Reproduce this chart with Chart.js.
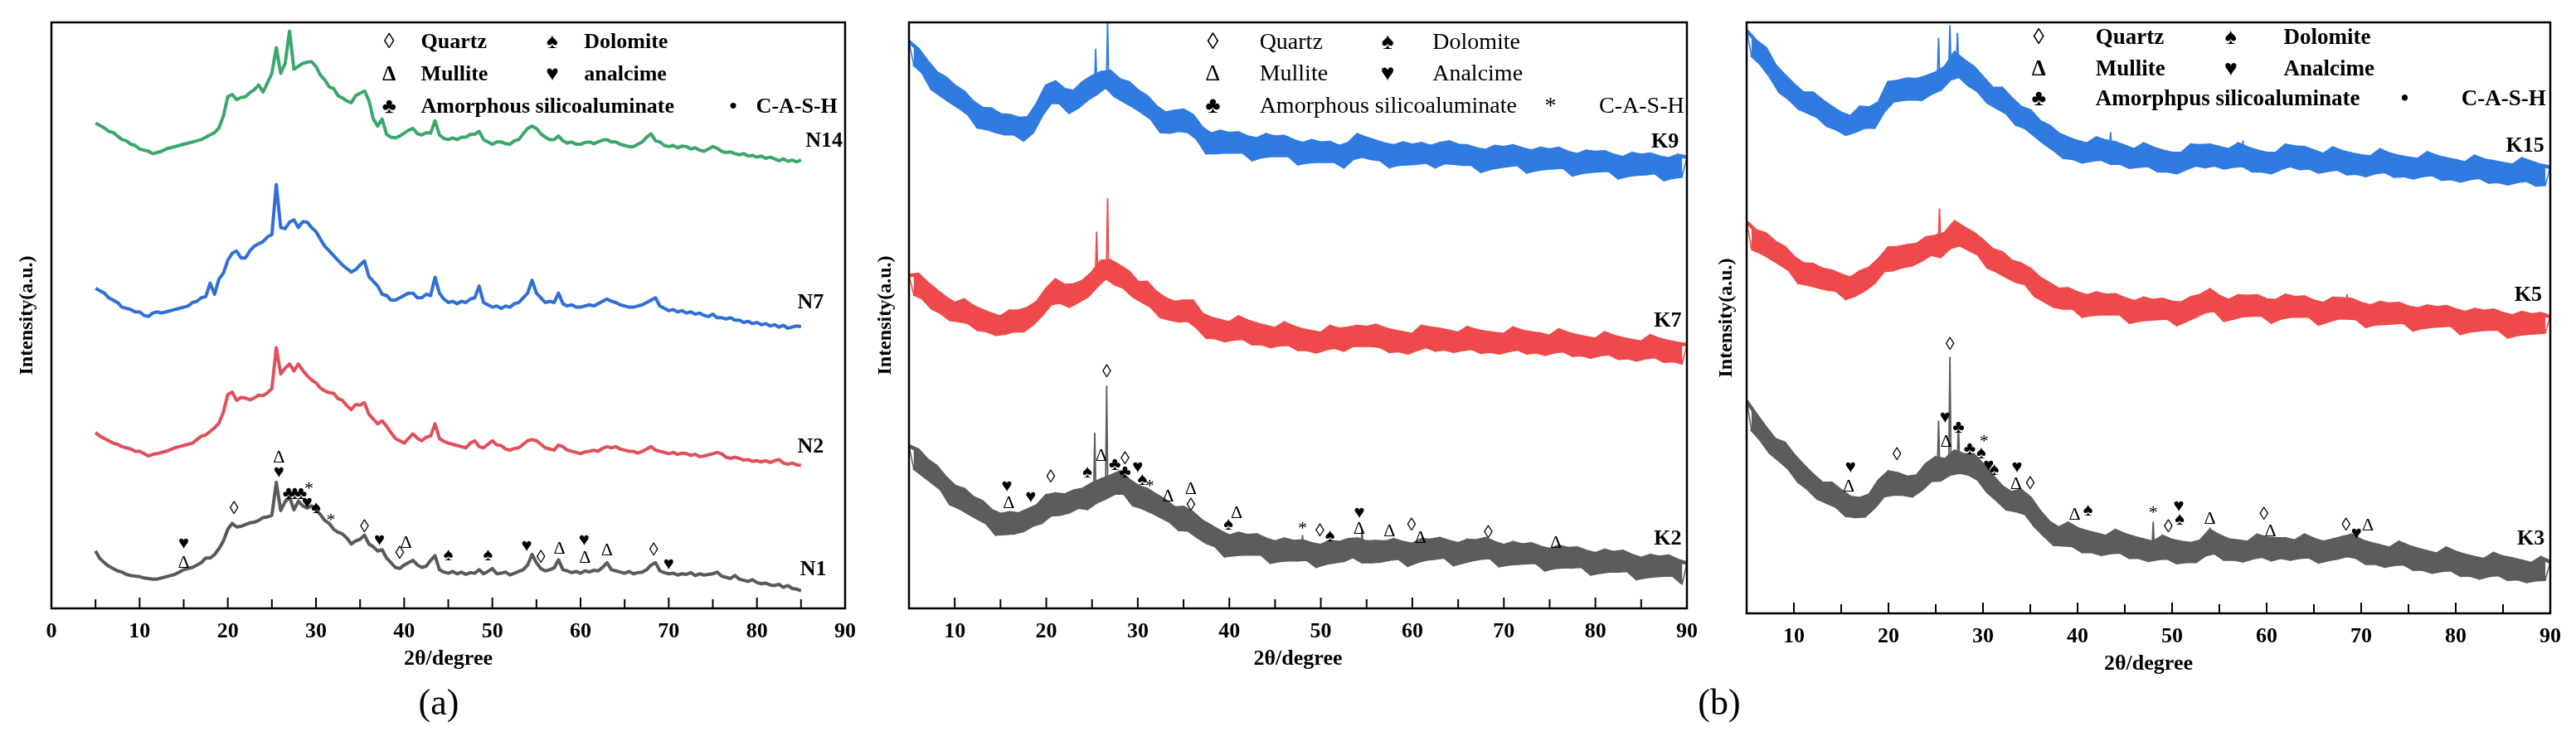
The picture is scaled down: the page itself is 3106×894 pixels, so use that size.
<!DOCTYPE html>
<html>
<head>
<meta charset="utf-8">
<script src="https://cdn.jsdelivr.net/npm/chart.js@4.4.1/dist/chart.umd.min.js"></script>
<style>
  html, body { margin: 0; padding: 0; background: #fff; }
  #wrap { position: relative; width: 3106px; height: 894px; overflow: hidden; }
  #wrap canvas { position: absolute; top: 0; }
  .cap { position: absolute; top: 847px; font: 44px "Liberation Serif", "Times New Roman", serif;
         transform: translate(-50%, -50%); color: #000; }
</style>
</head>
<body>
<div id="wrap">
  <canvas id="pa" style="left:0px;width:1045px;height:894px" width="1045" height="894"></canvas>
  <canvas id="pb" style="left:1045px;width:1015px;height:894px" width="1015" height="894"></canvas>
  <canvas id="pc" style="left:2060px;width:1046px;height:894px" width="1046" height="894"></canvas>
  <div class="cap" style="left:529px">(a)</div>
  <div class="cap" style="left:2073px">(b)</div>
</div>
<script>
// scan grid: 2θ sampled every 0.5°
const angleA = Array.from({ length: 161 }, (_, i) => 5 + i * 0.5);   // 5..85
const angleK = Array.from({ length: 171 }, (_, i) => 5 + i * 0.5);   // 5..90

// panel (a), intensity in arbitrary units (0-100 of plot height)
const n14 = [
  82.8,82.4,82.0,81.4,81.2,80.6,80.0,79.8,79.2,79.0,
  78.4,78.2,78.0,77.6,77.8,78.0,78.4,78.6,78.8,79.0,
  79.2,79.4,79.6,79.8,80.0,80.4,80.8,81.2,82.0,84.0,
  87.3,87.7,86.8,87.2,87.3,88.0,88.5,89.3,88.1,89.7,
  91.3,95.7,91.3,93.0,98.5,92.0,92.5,93.0,93.2,93.3,
  92.5,91.0,90.2,89.0,88.7,87.5,87.1,86.6,86.3,87.5,
  87.9,88.3,86.7,83.5,82.3,83.5,80.9,80.4,80.3,80.6,
  81.1,81.6,81.9,81.0,80.8,81.2,81.1,83.2,80.8,80.2,
  80.0,80.3,80.0,80.4,80.4,80.9,80.9,81.4,80.0,79.6,
  79.2,79.6,79.6,79.3,79.2,79.8,80.0,81.0,81.9,82.3,
  81.9,81.0,80.4,80.0,80.0,80.6,79.8,79.4,79.6,79.2,
  79.2,79.5,79.6,79.3,79.6,79.9,80.0,79.6,79.6,79.2,
  79.0,78.8,78.8,79.2,79.6,80.4,81.0,79.8,79.6,79.0,
  78.8,79.0,78.6,78.9,78.8,78.4,78.6,78.2,78.0,78.4,
  78.8,78.5,78.0,77.8,77.9,77.6,77.4,77.6,77.2,77.3,
  77.0,77.2,76.8,77.0,76.7,76.4,76.7,76.3,76.5,76.2,
  76.5
];
const n7 = [
  54.6,54.2,53.8,53.0,52.6,52.2,51.4,51.2,51.0,50.6,
  50.6,50.0,49.8,50.4,50.6,50.4,50.6,50.8,51.0,51.2,
  51.4,51.6,52.2,52.4,53.0,53.2,55.5,53.6,56.2,57.2,
  59.4,60.6,61.0,59.8,59.8,61.0,61.8,62.2,62.6,63.4,
  63.8,72.3,65.0,64.8,65.9,66.3,65.0,66.0,65.9,65.0,
  64.3,63.0,61.8,61.0,60.2,59.4,58.6,58.0,57.4,57.8,
  58.6,59.3,56.6,55.8,55.0,53.6,53.4,52.6,52.6,53.0,
  53.4,53.8,53.8,53.0,53.0,53.6,53.4,56.5,53.8,52.8,
  52.2,52.4,52.0,52.4,52.2,52.8,53.0,55.0,52.2,51.8,
  51.4,51.6,51.2,51.6,51.4,52.0,52.2,53.0,53.8,56.0,
  53.8,53.0,52.2,52.4,52.2,53.8,52.0,51.6,51.8,51.4,
  51.4,51.6,51.8,51.6,52.0,52.4,52.8,52.4,52.2,51.8,
  51.6,51.4,51.4,51.6,51.8,52.2,52.6,53.0,51.6,51.2,
  50.8,51.0,50.6,50.8,50.4,50.6,50.2,50.4,50.0,49.8,
  50.2,49.6,49.6,49.4,49.6,49.2,49.2,48.8,49.0,48.6,
  48.8,48.4,48.6,48.2,48.4,48.0,48.3,47.8,48.0,48.2,
  48.1
];
const n2 = [
  30.0,29.4,29.0,28.6,28.2,28.0,27.6,27.4,27.2,26.8,
  26.8,26.4,26.0,26.3,26.4,26.6,26.8,27.1,27.4,27.6,
  27.8,28.0,28.2,28.8,29.4,29.6,30.2,30.8,31.6,33.5,
  36.5,36.9,35.5,36.0,35.9,35.6,35.9,36.4,36.3,36.8,
  37.5,44.5,40.0,41.0,41.7,40.5,41.7,40.6,39.7,39.0,
  38.5,37.6,37.1,36.8,36.7,35.8,35.5,34.6,33.9,34.8,
  34.7,35.1,33.1,32.3,31.5,32.0,31.1,30.0,29.0,28.6,
  28.2,29.0,29.8,29.0,28.6,29.2,29.4,31.5,29.0,28.5,
  28.2,28.0,27.8,27.6,27.4,28.2,28.6,27.6,27.4,28.0,
  28.6,27.9,27.8,27.2,27.0,27.3,27.4,28.0,28.6,28.8,
  28.6,28.0,27.4,27.2,27.0,27.9,27.6,27.0,26.8,26.6,
  26.4,26.7,26.8,27.0,26.8,27.3,27.6,27.4,27.6,27.2,
  27.0,26.8,26.8,26.5,26.8,27.2,27.6,27.0,26.8,26.6,
  26.4,26.6,26.3,26.5,26.4,26.1,26.3,25.9,26.0,26.2,
  26.4,26.6,26.4,25.8,25.6,25.8,25.6,25.3,25.4,25.1,
  25.2,25.0,25.2,24.9,25.2,25.4,24.8,24.6,24.8,24.5,
  24.4
];
const n1 = [
  9.8,8.5,7.8,7.2,6.8,6.4,6.2,5.8,5.6,5.5,
  5.4,5.2,5.1,5.0,5.0,5.2,5.4,5.6,5.8,6.2,
  6.6,6.8,7.0,7.4,7.8,8.6,8.6,9.2,10.2,11.5,
  13.5,14.5,13.9,14.0,14.3,14.6,14.7,15.0,15.5,15.6,
  15.9,21.5,16.7,18.2,19.0,16.8,18.3,17.5,17.1,17.5,
  16.8,16.0,15.0,14.5,13.5,13.0,12.7,12.0,11.0,11.5,
  11.8,12.5,11.0,10.5,9.8,10.0,8.6,7.8,7.0,6.8,
  7.4,7.8,8.2,7.4,7.0,7.2,8.2,9.0,6.6,6.2,
  6.0,6.3,5.9,6.2,5.8,6.1,6.0,6.6,5.9,6.3,
  6.8,5.9,6.0,6.2,5.7,6.0,6.3,6.6,7.4,9.2,
  7.8,6.8,6.4,6.6,6.9,8.3,6.6,6.4,6.1,6.3,
  6.0,6.4,6.2,6.5,6.4,7.0,7.8,6.6,6.4,6.2,
  6.0,6.3,5.9,6.1,6.2,6.6,7.4,7.8,6.4,6.1,
  5.9,6.0,5.7,5.9,5.8,6.1,5.6,5.9,5.7,5.8,
  5.9,6.2,5.5,5.3,5.1,5.6,5.0,4.8,4.6,4.9,
  4.4,4.2,4.3,4.0,3.9,4.1,3.6,3.9,3.4,3.3,
  3.0
];

// panels (b) and (c): noisy scans, alternating upper / lower edge of the noise band
const k9 = [
  96.7,92.9,95.4,91.5,93.3,88.7,91.4,87.6,90.5,86.5,
  89.1,85.5,88.1,84.4,86.4,82.2,85.3,81.9,85.2,81.4,
  84.2,81.0,84.1,81.0,83.6,80.0,83.7,81.3,86.0,84.2,
  89.1,86.4,89.8,86.3,88.5,84.7,88.2,85.6,89.7,86.9,
  90.7,87.9,91.4,89.1,91.6,87.5,90.2,86.6,89.7,85.7,
  88.3,84.7,87.3,83.6,85.6,81.4,84.5,81.3,84.8,81.6,
  85.0,81.4,84.1,80.2,82.0,77.8,80.9,77.8,81.4,77.9,
  81.0,77.9,81.1,77.9,80.4,76.6,80.1,77.1,80.8,77.3,
  80.4,77.3,80.5,77.3,79.8,75.9,79.3,76.2,79.8,76.3,
  79.4,76.3,79.5,76.3,78.8,75.4,79.3,76.8,80.8,77.2,
  80.2,76.8,79.7,76.6,79.2,75.4,78.9,75.8,79.4,75.9,
  79.0,76.0,79.3,76.2,78.8,75.4,79.3,76.1,79.6,76.0,
  79.0,75.8,78.9,75.8,78.4,74.6,78.1,75.1,78.8,75.4,
  78.6,75.6,78.9,75.8,78.4,74.5,78.0,74.9,78.5,75.1,
  78.2,75.2,78.5,75.3,77.8,74.0,77.4,74.4,78.0,74.6,
  77.8,74.7,77.9,74.8,77.3,73.5,76.9,73.9,77.6,74.1,
  77.3,74.2,77.5,74.4,77.0,73.2,76.7,73.6,77.3,73.8,
  77.0
];
const k7 = [
  56.8,53.7,57.0,53.0,55.5,51.3,54.2,50.5,53.0,49.3,
  52.0,49.1,52.6,48.8,51.5,47.6,50.8,47.4,50.2,46.8,
  49.7,47.0,50.7,47.4,50.7,47.4,51.2,48.5,52.2,50.1,
  54.4,52.0,56.0,52.3,55.1,51.6,55.2,52.4,55.8,53.3,
  57.2,55.0,59.2,56.5,59.3,55.4,58.4,54.8,57.4,53.3,
  55.6,52.4,55.6,51.5,53.9,49.8,52.8,49.4,52.2,49.1,
  52.4,49.2,52.4,48.0,50.2,46.3,49.5,46.2,49.1,45.7,
  48.7,46.0,49.7,46.1,49.0,45.2,48.5,45.2,48.1,44.7,
  47.7,45.0,48.7,45.1,48.0,44.2,47.5,44.2,47.2,43.8,
  46.9,44.3,48.1,44.6,47.6,44.1,47.8,44.9,48.1,44.9,
  47.9,44.9,48.3,44.7,47.7,43.9,47.3,44.0,47.0,43.6,
  46.7,44.2,48.1,44.7,47.8,44.1,47.6,44.3,47.3,43.9,
  46.9,44.2,47.9,44.4,47.4,43.7,47.1,43.9,46.9,43.6,
  46.7,44.0,47.8,44.3,47.3,43.6,47.0,43.8,46.8,43.4,
  46.4,43.8,47.5,44.0,46.9,43.2,46.5,43.3,46.2,42.9,
  45.9,43.3,47.0,43.5,46.4,42.7,46.0,42.8,45.7,42.4,
  45.4,42.8,46.5,43.0,45.9,42.2,45.5,42.3,45.2,41.9,
  45.0
];
const k2 = [
  27.7,24.0,27.0,22.8,25.3,21.6,24.2,20.4,22.3,17.9,
  20.8,17.2,20.3,16.3,18.9,15.4,18.2,14.6,16.7,12.7,
  16.0,12.8,16.3,12.9,16.1,13.3,16.8,14.2,17.5,14.7,
  19.2,16.0,19.5,16.1,19.3,16.5,20.0,17.3,20.3,17.1,
  21.2,18.2,21.9,18.9,22.5,19.7,23.2,19.7,21.9,17.7,
  20.8,17.2,20.3,16.5,19.3,15.7,18.4,14.9,17.1,13.5,
  17.2,13.4,16.3,12.3,14.9,11.3,14.0,10.7,13.1,9.0,
  12.3,9.2,12.8,9.3,12.4,9.3,12.5,9.3,11.8,7.9,
  11.3,8.2,11.8,8.3,11.4,8.3,11.5,8.4,11.0,7.2,
  10.7,7.7,11.4,8.0,11.2,8.2,11.7,8.9,11.8,8.0,
  11.3,8.0,11.4,8.1,11.3,8.4,11.7,8.6,11.2,7.4,
  10.9,8.0,11.7,8.4,11.6,8.6,11.9,8.8,11.4,7.5,
  11.0,7.9,11.6,8.3,11.5,8.6,11.9,8.7,11.2,7.3,
  10.7,7.6,11.2,7.7,10.8,7.8,11.0,7.9,10.4,6.6,
  10.0,7.0,10.6,7.1,10.2,7.1,10.3,7.2,9.7,5.9,
  9.3,6.2,9.9,6.4,9.5,6.4,9.7,6.5,9.0,5.1,
  8.5,5.4,9.0,5.6,8.7,5.7,8.9,5.7,8.2,4.3,
  7.7
];
const k15 = [
  98.6,94.5,96.8,93.0,95.6,90.9,92.7,88.3,91.0,87.1,
  89.4,85.5,88.0,84.8,88.0,84.1,86.7,82.6,85.6,82.0,
  84.6,81.1,84.0,81.6,85.6,82.3,85.5,82.3,86.4,85.0,
  89.8,86.7,90.0,87.0,90.4,87.1,90.3,87.0,90.8,88.0,
  91.4,88.7,92.4,90.4,94.8,90.9,93.5,89.4,92.4,88.4,
  90.6,86.5,88.8,85.6,88.8,84.7,87.1,82.8,85.6,82.2,
  85.0,80.9,83.2,79.6,82.4,78.5,81.1,77.2,80.4,77.0,
  79.8,76.4,79.4,76.7,80.4,76.9,79.9,76.2,79.6,76.2,
  79.0,75.5,78.4,75.7,79.4,75.8,78.7,74.9,78.2,74.9,
  77.8,74.6,77.8,75.3,79.2,75.9,79.1,75.6,79.2,75.9,
  78.8,75.4,78.4,75.7,79.4,75.8,78.7,74.9,78.2,74.9,
  77.8,74.6,77.8,75.3,79.2,75.8,78.9,75.3,78.8,75.4,
  78.2,74.7,77.6,75.0,78.7,75.2,78.1,74.4,77.7,74.5,
  77.4,74.1,77.2,74.6,78.4,74.8,77.7,74.0,77.3,74.1,
  77.0,73.7,76.8,74.1,77.9,74.3,77.3,73.5,76.9,73.6,
  76.6,73.2,76.2,73.6,77.3,73.8,76.7,73.0,76.4,73.1,
  76.1,72.7,75.8,73.1,76.9,73.3,76.3,72.5,75.8,72.6,
  75.5
];
const k5 = [
  66.2,61.8,64.7,61.1,64.2,60.2,62.8,59.2,61.9,58.2,
  60.2,56.0,59.1,55.7,59.0,55.3,58.2,54.9,57.9,54.7,
  57.2,53.3,56.7,53.9,57.8,54.8,58.4,56.0,59.9,58.0,
  61.8,58.2,61.9,58.7,62.2,59.0,62.4,59.8,63.5,60.8,
  63.8,60.4,64.3,61.9,66.2,62.4,65.2,61.6,64.3,60.8,
  63.0,58.6,61.5,57.9,61.0,57.0,59.6,56.2,59.1,55.8,
  58.2,53.8,56.7,52.9,55.8,52.0,54.8,51.7,54.9,51.7,
  54.2,50.3,53.7,50.6,54.2,50.7,53.8,50.7,53.9,50.7,
  53.2,49.3,52.7,49.6,53.3,49.8,52.9,49.9,53.1,50.0,
  52.6,48.9,52.5,49.6,53.4,50.3,53.8,51.1,54.7,51.3,
  53.6,49.6,52.9,50.0,53.7,50.4,53.6,50.5,53.7,50.5,
  53.0,49.3,52.9,50.0,53.8,50.3,53.4,50.3,53.5,50.3,
  52.8,49.0,52.4,49.5,53.3,50.0,53.2,50.0,53.1,49.9,
  52.4,48.6,52.0,49.0,52.6,49.1,52.3,49.2,52.4,49.3,
  51.8,48.0,51.5,48.4,52.0,48.6,51.7,48.7,51.9,48.8,
  51.3,47.4,50.9,47.8,51.4,48.0,51.1,48.1,51.3,48.1,
  50.7,46.8,50.3,47.2,50.9,47.4,50.5,47.5,50.7,47.6,
  50.2
];
const k3 = [
  35.9,31.2,33.6,29.4,31.4,27.2,29.4,25.9,28.8,24.5,
  26.7,22.3,25.0,21.1,23.4,19.5,22.0,18.8,22.0,18.1,
  20.7,16.6,19.6,16.4,19.4,16.5,20.0,18.0,22.4,19.9,
  23.9,20.2,23.6,20.2,23.0,19.9,23.2,21.0,25.2,22.5,
  26.3,22.6,26.0,23.6,27.4,23.9,26.8,23.6,26.8,22.7,
  25.1,20.6,23.2,19.2,21.4,17.7,20.4,17.4,20.8,16.9,
  19.5,14.8,17.2,13.2,15.4,11.7,14.4,11.6,15.2,11.5,
  14.3,10.5,13.8,10.5,13.4,10.0,13.0,10.3,14.0,10.4,
  13.3,9.5,12.8,9.5,12.4,9.0,12.0,9.3,13.0,9.4,
  12.3,8.6,12.0,8.8,11.8,8.8,12.2,9.9,14.0,10.3,
  13.1,9.2,12.4,9.2,12.2,8.9,12.0,9.4,13.2,9.7,
  12.7,9.1,12.6,9.5,12.6,9.2,12.2,9.5,13.2,9.6,
  12.5,8.7,12.0,9.1,12.4,9.4,12.8,9.8,13.2,9.5,
  12.3,8.5,11.8,8.5,11.4,8.0,11.0,8.3,12.0,8.4,
  11.3,7.5,10.8,7.5,10.4,7.0,10.0,7.3,11.0,7.4,
  10.3,6.5,9.8,6.5,9.4,6.0,9.1,6.4,10.1,6.6,
  9.5,5.8,9.2,5.9,8.8,5.4,8.4,5.7,9.4,5.8,
  8.7
];

// sharp reflections: [2θ, foot, top]
const k9Peaks  = [[25.4, 89.0, 95.5], [26.7, 90.0, 100]];
const k7Peaks  = [[25.5, 57.0, 64.3], [26.7, 57.5, 70.0]];
const k2Peaks  = [[25.3, 20.0, 30.0], [26.6, 20.5, 38.0], [48.0, 9.6, 12.5], [54.5, 10.2, 13.5]];
const k15Peaks = [[25.3, 90.5, 97.4], [26.5, 92.0, 99.5], [27.3, 92.5, 98.2], [43.5, 78.2, 81.4], [57.5, 77.1, 80.0]];
const k5Peaks  = [[25.4, 62.6, 68.5], [54.2, 52.5, 54.5], [68.5, 51.3, 54.0]];
const k3Peaks  = [[25.3, 24.6, 32.6], [26.5, 25.4, 43.4], [27.4, 26.0, 31.8], [48.0, 11.0, 15.5], [54.0, 11.8, 14.5]];

// phase marks: [2θ, intensity, phase]
const n1Marks = [
  [15.0, 11.0, 'H'], [15.0, 7.8, 'M'], [20.7, 16.9, 'Q'], [25.8, 25.7, 'M'], [25.8, 23.1, 'H'],
  [26.9, 19.5, 'A'], [27.6, 19.5, 'A'], [28.3, 19.5, 'A'], [29.2, 20.3, 'C'], [29.0, 17.9, 'H'],
  [30.0, 17.1, 'D'], [31.7, 15.0, 'C'], [35.5, 13.9, 'Q'], [37.2, 11.5, 'H'], [40.2, 11.2, 'M'],
  [39.5, 9.3, 'Q'], [45.0, 9.0, 'D'], [49.5, 9.0, 'D'], [53.9, 10.6, 'H'], [55.5, 8.6, 'Q'],
  [57.6, 10.2, 'M'], [60.4, 11.5, 'H'], [60.5, 8.6, 'M'], [63.0, 9.8, 'M'], [68.3, 9.8, 'Q'],
  [70.0, 7.4, 'H']
];
const k2Marks = [
  [15.7, 20.7, 'H'], [15.9, 17.9, 'M'], [18.3, 18.9, 'H'], [20.5, 22.3, 'Q'], [24.5, 23.1, 'D'],
  [26.0, 26.0, 'M'], [26.6, 40.3, 'Q'], [27.5, 24.4, 'A'], [28.6, 25.4, 'Q'], [28.6, 23.1, 'A'],
  [30.0, 24.0, 'H'], [30.5, 21.9, 'D'], [31.3, 20.7, 'C'], [33.3, 19.1, 'M'], [35.8, 20.3, 'M'],
  [35.8, 17.5, 'Q'], [40.8, 16.3, 'M'], [39.9, 14.3, 'D'], [48.0, 13.6, 'C'], [49.9, 13.1, 'Q'],
  [51.0, 12.3, 'D'], [54.2, 16.3, 'H'], [54.2, 13.5, 'M'], [57.5, 13.1, 'M'], [59.9, 14.1, 'Q'],
  [60.9, 12.0, 'M'], [68.3, 12.8, 'Q'], [75.7, 11.2, 'M']
];
const k3Marks = [
  [16.0, 24.6, 'H'], [15.8, 21.4, 'M'], [20.9, 26.8, 'Q'], [26.5, 45.4, 'Q'], [26.0, 33.0, 'H'],
  [26.1, 29.0, 'M'], [27.4, 31.4, 'A'], [28.6, 27.8, 'A'], [30.1, 29.0, 'C'], [29.8, 27.0, 'D'],
  [30.6, 25.0, 'H'], [31.2, 24.2, 'D'], [33.6, 24.7, 'H'], [33.5, 21.8, 'M'], [35.0, 21.8, 'Q'],
  [39.7, 16.6, 'M'], [41.1, 17.4, 'D'], [48.0, 17.0, 'C'], [49.6, 14.6, 'Q'], [50.7, 18.0, 'H'],
  [50.8, 15.8, 'D'], [54.0, 15.9, 'M'], [59.7, 16.7, 'Q'], [60.4, 13.8, 'M'], [68.4, 14.8, 'Q'],
  [69.5, 13.5, 'H'], [70.7, 14.9, 'M']
];

const glyph = { Q: '\u25CA', D: '\u2660', M: '\u0394', H: '\u2665', A: '\u2663', C: '*' };

// legend texts, in phase order Q, D, M, H, A, C
const legendA = ['Quartz', 'Dolomite', 'Mullite', 'analcime', 'Amorphous silicoaluminate', 'C-A-S-H'];
const legendB = ['Quartz', 'Dolomite', 'Mullite', 'Analcime', 'Amorphous silicoaluminate', 'C-A-S-H'];
const legendC = ['Quartz', 'Dolomite', 'Mullite', 'Analcime', 'Amorphpus silicoaluminate', 'C-A-S-H'];

const serif = '"Liberation Serif", "Times New Roman", serif';

function decorFor(o) {
  return {
    id: 'decor',
    afterDatasetsDraw(chart) {
      const { ctx, chartArea: a, scales: { x, y } } = chart;
      ctx.save();
      ctx.strokeStyle = '#000';
      ctx.lineWidth = 2;
      for (let v = o.xmin; v <= 90; v += 5) {
        const px = x.getPixelForValue(v);
        ctx.beginPath();
        ctx.moveTo(px, a.bottom);
        ctx.lineTo(px, a.bottom - (v % 10 === 0 ? 13 : 11));
        ctx.stroke();
      }
      ctx.lineWidth = 2.5;
      ctx.strokeRect(a.left, a.top, a.right - a.left, a.bottom - a.top);

      ctx.fillStyle = '#000';
      ctx.textBaseline = 'middle';
      ctx.textAlign = 'center';
      ctx.font = '22px ' + serif;
      o.marks.forEach(([ang, val, ph]) => {
        ctx.fillText(glyph[ph], x.getPixelForValue(ang), y.getPixelForValue(val));
      });

      // legend block inside the frame
      const L = o.legendPos;
      const cells = [
        ['Q', 0, 0], ['D', 0, 1], ['M', 1, 0], ['H', 1, 1], ['A', 2, 0], ['C', 2, 2]
      ];
      ctx.font = o.legendFont;
      cells.forEach(([ph, row, col], i) => {
        const py = y.getPixelForValue(L.rows[row]);
        ctx.textAlign = 'center';
        ctx.fillText(ph === 'C' ? o.cashSym : glyph[ph], x.getPixelForValue(L.sym[col]), py);
        ctx.textAlign = 'left';
        ctx.fillText(o.legend[i], x.getPixelForValue(L.txt[col]), py);
      });

      ctx.font = 'bold 26px ' + serif;
      ctx.textAlign = 'left';
      o.names.forEach((nm, i) => {
        ctx.fillText(nm, x.getPixelForValue(o.nameAt[i][0]), y.getPixelForValue(o.nameAt[i][1]));
      });
      ctx.restore();
    }
  };
}

// a noisy scan drawn as a filled band between its upper and lower noise points
function bandSets(vals, angles, color) {
  const upper = [], lower = [];
  vals.forEach((v, i) => (i % 2 === 0 ? upper : lower).push({ x: angles[i], y: v }));
  return [
    { data: upper, borderColor: color, borderWidth: 4.5, pointRadius: 0, tension: 0, fill: false },
    { data: lower, borderColor: color, borderWidth: 4.5, pointRadius: 0, tension: 0,
      fill: '-1', backgroundColor: color },
    { data: vals.map((v, i) => ({ x: angles[i], y: v })), borderColor: color, borderWidth: 1.5,
      pointRadius: 0, tension: 0, fill: false }
  ];
}

function panel(id, o) {
  let datasets = [];
  o.series.forEach((vals, i) => {
    if (o.band) {
      datasets = datasets.concat(bandSets(vals, o.angles, o.colors[i]));
    } else {
      datasets.push({ data: vals.map((v, j) => ({ x: o.angles[j], y: v })), borderColor: o.colors[i],
                      borderWidth: o.lineWidth, pointRadius: 0, tension: 0, fill: false,
                      borderJoinStyle: 'round' });
    }
  });
  o.peaks.forEach((list, i) => list.forEach(([ang, foot, top]) => {
    datasets.push({
      data: [{ x: ang - 0.12, y: foot }, { x: ang, y: top }, { x: ang + 0.12, y: foot }],
      borderColor: o.colors[i], borderWidth: 1.8, pointRadius: 0, tension: 0, fill: false
    });
  }));

  new Chart(document.getElementById(id), {
    type: 'line',
    data: { datasets },
    options: {
      responsive: false,
      animation: false,
      devicePixelRatio: 1,
      layout: { padding: o.pad },
      plugins: { legend: { display: false }, tooltip: { enabled: false } },
      scales: {
        x: {
          type: 'linear', min: o.xmin, max: 90,
          afterBuildTicks: ax => { ax.ticks = ax.ticks.filter(t => t.value % 10 === 0); },
          ticks: { stepSize: 10, padding: 13, autoSkip: false, maxRotation: 0, color: '#000',
                   font: { family: serif, size: 26, weight: 'bold' } },
          grid: { display: false, drawTicks: false },
          border: { display: false },
          title: { display: true, text: '2\u03B8/degree', color: '#000', padding: { top: 0, bottom: 3 },
                   font: { family: serif, size: 26, weight: 'bold' } },
          afterFit: ax => { ax.height = 80; }
        },
        y: {
          min: 0, max: 100,
          ticks: { display: false },
          grid: { display: false, drawTicks: false },
          border: { display: false },
          title: { display: true, text: 'Intensity(a.u.)', color: '#000', padding: { top: 4, bottom: 0 },
                   font: { family: serif, size: 24, weight: 'bold' } },
          afterFit: ax => { ax.width = o.yWidth; }
        }
      }
    },
    plugins: [decorFor(o)]
  });
}

panel('pa', {
  angles: angleA, xmin: 0, series: [n14, n7, n2, n1], peaks: [], band: false,
  colors: ['#3aa86c', '#2f6fd6', '#e0505a', '#5a5a5a'], lineWidth: 4,
  pad: { left: 14, top: 27, right: 22, bottom: 80 }, yWidth: 48,
  marks: n1Marks, legend: legendA, legendFont: 'bold 26px ' + serif, cashSym: '\u2022',
  legendPos: { rows: [96.5, 91.1, 85.6], sym: [38.3, 56.8, 77.3], txt: [41.9, 60.4, 79.9] },
  names: ['N14', 'N7', 'N2', 'N1'], nameAt: [[85.5, 79.8], [84.6, 52.2], [84.6, 27.6], [84.9, 6.6]]
});

panel('pb', {
  angles: angleK, xmin: 5, series: [k9, k7, k2], peaks: [k9Peaks, k7Peaks, k2Peaks], band: true,
  colors: ['#2f7be0', '#ee4a4c', '#5c5c5c'],
  pad: { left: 4, top: 27, right: 6, bottom: 80 }, yWidth: 47,
  marks: k2Marks, legend: legendB, legendFont: '28px ' + serif, cashSym: '*',
  legendPos: { rows: [96.5, 91.1, 85.6], sym: [38.2, 57.3, 75.1], txt: [43.3, 62.2, 80.4] },
  names: ['K9', 'K7', 'K2'], nameAt: [[86.1, 79.6], [86.4, 49.0], [86.4, 11.9]]
});

panel('pc', {
  angles: angleK, xmin: 5, series: [k15, k5, k3], peaks: [k15Peaks, k5Peaks, k3Peaks], band: true,
  colors: ['#2f7be0', '#ee4a4c', '#5c5c5c'],
  pad: { left: 3, top: 27, right: 31, bottom: 74 }, yWidth: 43,
  marks: k3Marks, legend: legendC, legendFont: 'bold 27px ' + serif, cashSym: '\u2022',
  legendPos: { rows: [97.4, 92.0, 87.0], sym: [35.9, 56.2, 74.6], txt: [41.9, 61.8, 80.6] },
  names: ['K15', 'K5', 'K3'], nameAt: [[85.3, 79.0], [86.2, 53.8], [86.5, 12.6]]
});
</script>
</body>
</html>
